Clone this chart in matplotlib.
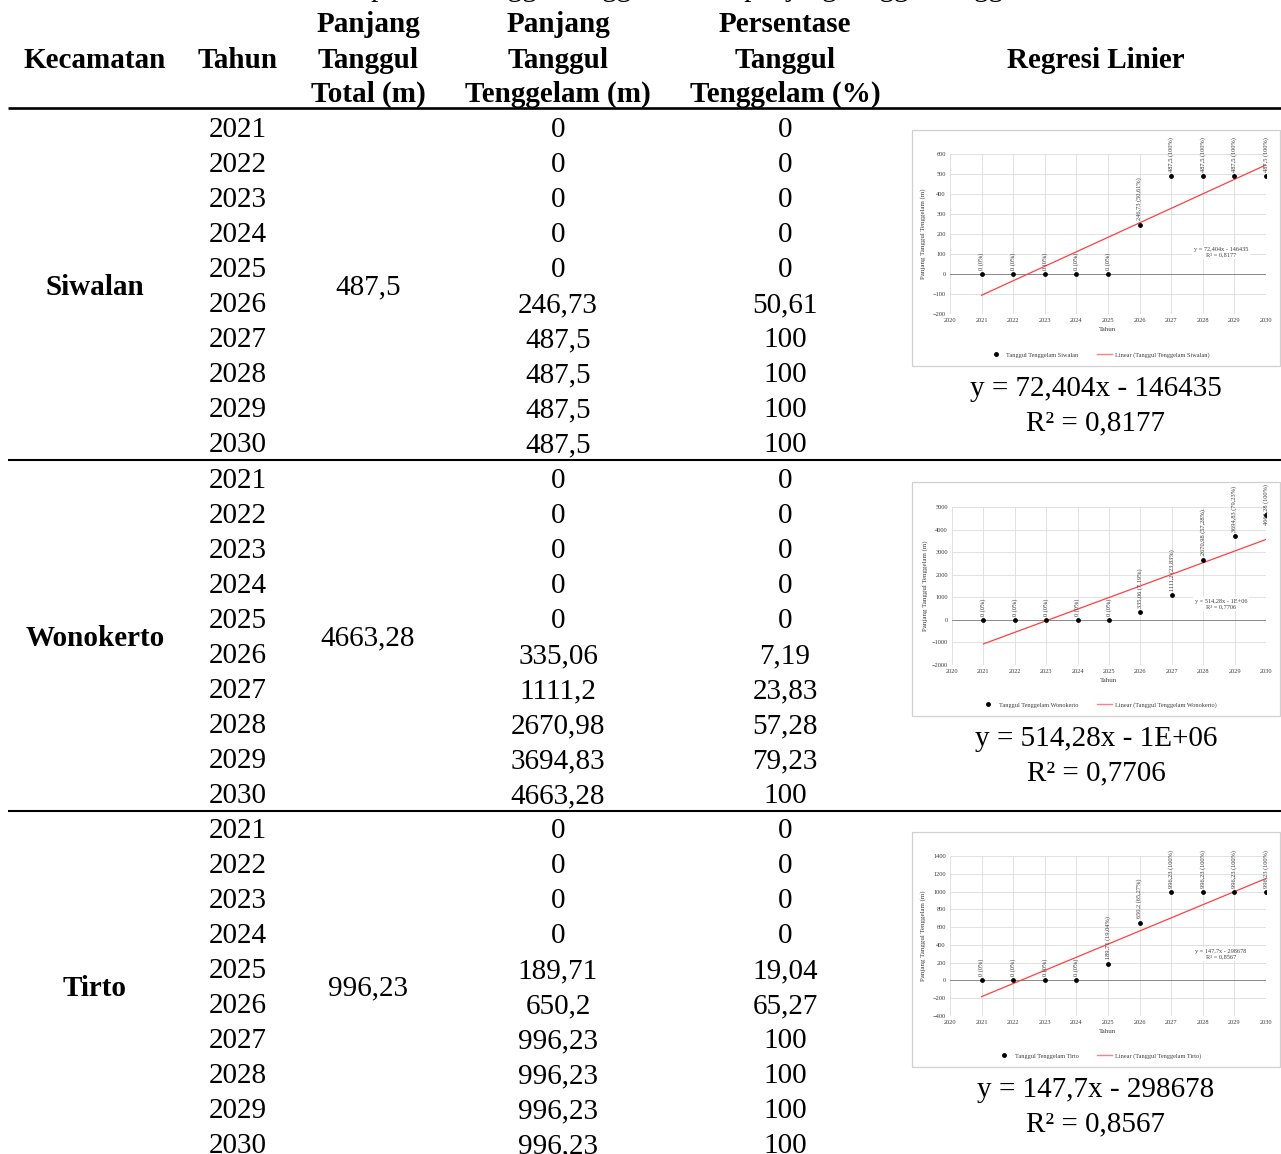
import matplotlib
matplotlib.use("Agg")
import matplotlib.pyplot as plt
import matplotlib.patches as patches
from matplotlib.lines import Line2D
import numpy as np

plt.rcParams['font.family'] = ['Liberation Serif', 'DejaVu Serif']

# table data
kecamatan = ['Siwalan', 'Wonokerto', 'Tirto']
tahun = [2021, 2022, 2023, 2024, 2025, 2026, 2027, 2028, 2029, 2030]
total = [487.5, 4663.28, 996.23]

tenggelam_siwalan = [0, 0, 0, 0, 0, 246.73, 487.5, 487.5, 487.5, 487.5]
tenggelam_wonokerto = [0, 0, 0, 0, 0, 335.06, 1111.2, 2670.98, 3694.83, 4663.28]
tenggelam_tirto = [0, 0, 0, 0, 189.71, 650.2, 996.23, 996.23, 996.23, 996.23]

persen_siwalan = [0, 0, 0, 0, 0, 50.61, 100, 100, 100, 100]
persen_wonokerto = [0, 0, 0, 0, 0, 7.19, 23.83, 57.28, 79.23, 100]
persen_tirto = [0, 0, 0, 0, 19.04, 65.27, 100, 100, 100, 100]

tenggelam = [tenggelam_siwalan, tenggelam_wonokerto, tenggelam_tirto]
persen = [persen_siwalan, persen_wonokerto, persen_tirto]

# y axis ticks of the small charts (min, max, step)
ylims = [(-200, 600, 100), (-2000, 5000, 1000), (-400, 1400, 200)]

W, H = 1281, 1154
fig = plt.figure(figsize=(W / 100, H / 100), dpi=100)
ax = fig.add_axes([0, 0, 1, 1])
ax.set_xlim(0, W)
ax.set_ylim(H, 0)
ax.axis('off')

FS = 21
col_kec, col_th, col_tot, col_tg, col_ps, col_reg = 95, 238, 368, 558, 785, 1096
GREY = '#3c3c3c'


def num(v):
    return ('%g' % v).replace('.', ',')


def put(x, y, s, bold=False, size=FS):
    # y is the visual middle of the cap height
    ax.text(x, y + 10, s, ha='center', va='baseline', fontsize=size,
            fontweight='bold' if bold else 'normal')


def frac_rect(x0, y0, x1, y1):
    return [x0 / W, 1 - y1 / H, (x1 - x0) / W, (y1 - y0) / H]


# caption, running off the top edge
ax.text(690, -4, 'Tabel 4.6 Hasil prediksi tanggul tenggelam dan panjang tanggul tenggelam 2021-2030',
        ha='center', va='baseline', fontsize=FS)

# header
put(col_kec, 58, 'Kecamatan', True)
put(col_th, 58, 'Tahun', True)
for x, lines in [(col_tot, ['Panjang', 'Tanggul', 'Total (m)']),
                 (col_tg, ['Panjang', 'Tanggul', 'Tenggelam (m)']),
                 (col_ps, ['Persentase', 'Tanggul', 'Tenggelam (%)'])]:
    for y, s in zip([22, 58, 92], lines):
        put(x, y, s, True)
put(col_reg, 58, 'Regresi Linier', True)
ax.plot([8, W], [108, 108], color='black', lw=1.9, solid_capstyle='butt')

group_top = [127, 478, 828]
row_h = 35.05
boxes = [(912, 130, 1280, 366), (912, 482, 1280, 716), (912, 832, 1280, 1067)]
plots = [(950, 154, 1266, 314), (952, 507, 1266, 665), (950, 856, 1266, 1016)]

labels_to_fit = []

for g, name in enumerate(kecamatan):
    y0 = group_top[g]
    ymid = y0 + row_h * 4.5
    put(col_kec, ymid, name, True)
    put(col_tot, ymid, num(total[g]))
    for i, th in enumerate(tahun):
        yy = y0 + row_h * i
        put(col_th, yy, str(th))
        put(col_tg, yy, num(tenggelam[g][i]))
        put(col_ps, yy, num(persen[g][i]))
    if g < 2:
        yl = y0 + row_h * 9 + 18
        ax.plot([8, W], [yl, yl], color='black', lw=1.5, solid_capstyle='butt')

    # linear regression of the submerged length against the year
    xs = np.array(tahun, dtype=float)
    ys = np.array(tenggelam[g], dtype=float)
    slope, icept = np.polyfit(xs, ys, 1)
    fit = slope * xs + icept
    r2 = 1 - np.sum((ys - fit) ** 2) / np.sum((ys - ys.mean()) ** 2)
    if abs(icept) >= 1e6:
        ic_txt = '%.0E' % abs(icept)
    else:
        ic_txt = '%d' % round(abs(icept))
    sign = '-' if icept < 0 else '+'
    eq = 'y = %sx %s %s' % (('%.5g' % slope).replace('.', ','), sign, ic_txt)
    r2_txt = 'R² = %s' % ('%.4f' % r2).replace('.', ',')

    bx0, by0, bx1, by1 = boxes[g]
    ax.add_patch(patches.Rectangle((bx0, by0), bx1 - bx0, by1 - by0, fill=False,
                                   ec='#d0d0d0', lw=0.9))
    put(col_reg, by1 + 20, eq)
    put(col_reg, by1 + 54, r2_txt)

    # small chart
    px0, py0, px1, py1 = plots[g]
    a = fig.add_axes(frac_rect(px0, py0, px1, py1))
    a.set_facecolor('none')
    lo, hi, st = ylims[g]
    a.set_xlim(2020, 2030)
    a.set_ylim(lo, hi)
    a.set_xticks(range(2020, 2031))
    a.set_yticks(range(lo, hi + 1, st))
    a.grid(color='#dcdcdc', lw=0.6)
    a.set_axisbelow(True)
    for sp in a.spines.values():
        sp.set_visible(False)
    a.axhline(0, color='#8a8a8a', lw=0.7, zorder=1)
    a.tick_params(length=0, labelsize=4.6, pad=3, colors=GREY)
    a.plot(xs, fit, color='#ff4040', lw=0.9, zorder=2)
    a.scatter(xs, ys, s=6, color='black', zorder=3)
    for i in range(len(tahun)):
        lab = '%s (%s%%)' % (num(tenggelam[g][i]), num(persen[g][i]))
        t = a.annotate(lab, (xs[i], ys[i]), xytext=(0, 3), textcoords='offset points',
                       rotation=90, ha='center', va='bottom', fontsize=4.6,
                       color=GREY, zorder=4, annotation_clip=False)
        labels_to_fit.append((t, by0))
    a.set_xlabel('Tahun', fontsize=5, color=GREY, labelpad=2.5)
    fig.text((px0 - 27) / W, 1 - (py0 + py1) / 2 / H, 'Panjang Tanggul Tenggelam (m)',
             rotation=90, ha='center', va='center', fontsize=5, color=GREY)
    fig.text(1221 / W, 1 - (by0 + 122) / H, eq + '\n' + r2_txt,
             ha='center', va='center', fontsize=4.5, color=GREY, linespacing=1.1,
             bbox=dict(facecolor='white', edgecolor='none', pad=1))

    handles = [Line2D([], [], marker='o', ls='none', color='black', markersize=2.5),
               Line2D([], [], color='#ff8080', lw=1.0)]
    names = ['Tanggul Tenggelam %s' % name, 'Linear (Tanggul Tenggelam %s)' % name]
    fig.legend(handles, names, loc='center', ncol=2, frameon=False, fontsize=4.5,
               bbox_to_anchor=(1099 / W, 1 - (by1 - 11) / H), handlelength=2.4,
               columnspacing=3.0, handletextpad=0.5, labelcolor=GREY)

# keep the point labels inside their chart boxes
fig.canvas.draw()
r = fig.canvas.get_renderer()
for t, top in labels_to_fit:
    bb = t.get_window_extent(r)
    top_px = H - bb.y1
    if top_px < top + 2:
        t.set_position((0, 3 - (top + 2 - top_px) * 0.72))

fig.savefig('out.png', dpi=100)
